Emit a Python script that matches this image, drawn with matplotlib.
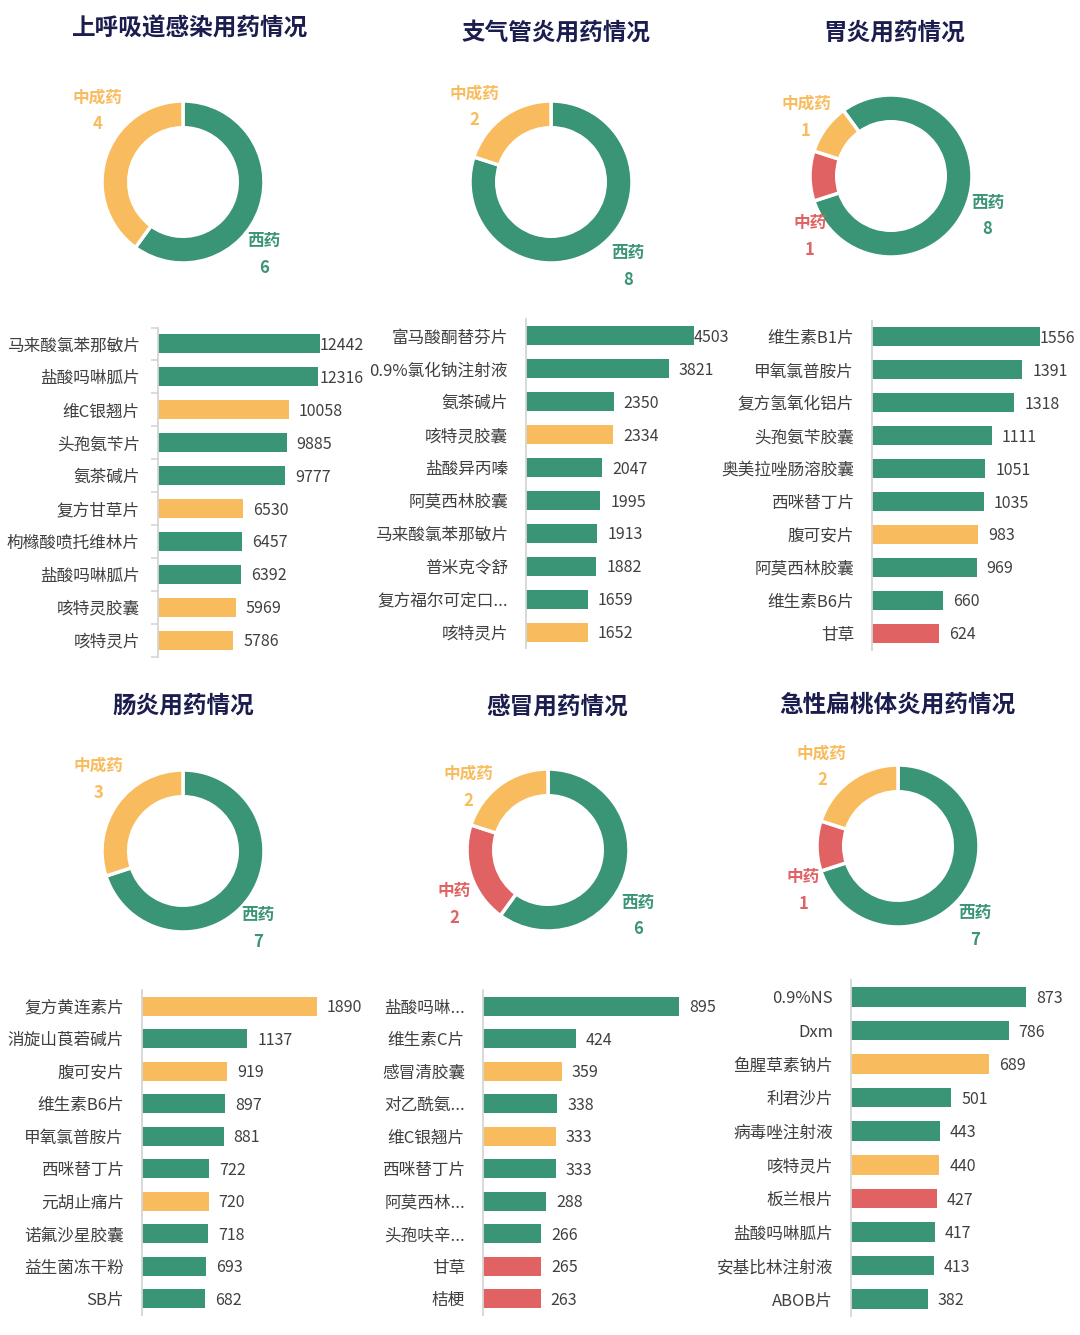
import numpy as np
import matplotlib
matplotlib.use("Agg")
import matplotlib.pyplot as plt

plt.rcParams["font.family"] = ["Noto Sans CJK SC", "DejaVu Sans"]

# colours
GREEN = "#3A9476"
RED = "#E06262"
YELLOW = "#F8BC5E"
NAVY = "#1B1D4F"
GREY_TXT = "#404040"
AXIS_GREY = "#D6D6D6"
kind_color = {"西": GREEN, "中": RED, "成": YELLOW}

# ---- data ----
titles = ["上呼吸道感染用药情况", "支气管炎用药情况", "胃炎用药情况",
          "肠炎用药情况", "感冒用药情况", "急性扁桃体炎用药情况"]

pie_labels = ["西药", "中药", "中成药"]
pie_kinds = ["西", "中", "成"]
pie_counts = [
    [6, 0, 4],
    [8, 0, 2],
    [8, 1, 1],
    [7, 0, 3],
    [6, 2, 2],
    [7, 1, 2],
]

names1 = ["马来酸氯苯那敏片", "盐酸吗啉胍片", "维C银翘片", "头孢氨苄片", "氨茶碱片",
          "复方甘草片", "枸橼酸喷托维林片", "盐酸吗啉胍片", "咳特灵胶囊", "咳特灵片"]
vals1 = [12442, 12316, 10058, 9885, 9777, 6530, 6457, 6392, 5969, 5786]
kinds1 = ["西", "西", "成", "西", "西", "成", "西", "西", "成", "成"]

names2 = ["富马酸酮替芬片", "0.9%氯化钠注射液", "氨茶碱片", "咳特灵胶囊", "盐酸异丙嗪",
          "阿莫西林胶囊", "马来酸氯苯那敏片", "普米克令舒", "复方福尔可定口...", "咳特灵片"]
vals2 = [4503, 3821, 2350, 2334, 2047, 1995, 1913, 1882, 1659, 1652]
kinds2 = ["西", "西", "西", "成", "西", "西", "西", "西", "西", "成"]

names3 = ["维生素B1片", "甲氧氯普胺片", "复方氢氧化铝片", "头孢氨苄胶囊", "奥美拉唑肠溶胶囊",
          "西咪替丁片", "腹可安片", "阿莫西林胶囊", "维生素B6片", "甘草"]
vals3 = [1556, 1391, 1318, 1111, 1051, 1035, 983, 969, 660, 624]
kinds3 = ["西", "西", "西", "西", "西", "西", "成", "西", "西", "中"]

names4 = ["复方黄连素片", "消旋山莨菪碱片", "腹可安片", "维生素B6片", "甲氧氯普胺片",
          "西咪替丁片", "元胡止痛片", "诺氟沙星胶囊", "益生菌冻干粉", "SB片"]
vals4 = [1890, 1137, 919, 897, 881, 722, 720, 718, 693, 682]
kinds4 = ["成", "西", "成", "西", "西", "西", "成", "西", "西", "西"]

names5 = ["盐酸吗啉...", "维生素C片", "感冒清胶囊", "对乙酰氨...", "维C银翘片",
          "西咪替丁片", "阿莫西林...", "头孢呋辛...", "甘草", "桔梗"]
vals5 = [895, 424, 359, 338, 333, 333, 288, 266, 265, 263]
kinds5 = ["西", "西", "成", "西", "成", "西", "西", "西", "中", "中"]

names6 = ["0.9%NS", "Dxm", "鱼腥草素钠片", "利君沙片", "病毒唑注射液",
          "咳特灵片", "板兰根片", "盐酸吗啉胍片", "安基比林注射液", "ABOB片"]
vals6 = [873, 786, 689, 501, 443, 440, 427, 417, 413, 382]
kinds6 = ["西", "西", "成", "西", "西", "成", "中", "西", "西", "西"]

bar_names = [names1, names2, names3, names4, names5, names6]
bar_vals = [vals1, vals2, vals3, vals4, vals5, vals6]
bar_kinds = [kinds1, kinds2, kinds3, kinds4, kinds5, kinds6]

# ---- layout (pixels) ----
W, H = 1080, 1335
title_pos = [(190, 28), (556, 33), (894, 33), (183, 706), (557, 707), (897, 705)]
donut_centers = [(183, 182), (551, 182), (891, 176), (183, 851), (548, 850), (898, 846)]
donut_r = 81
start_angles = [90, 90, 126, 90, 90, 90]
# label offsets in radius units, order 西药 / 中药 / 中成药
label_offsets = [
    [(1.00, -0.73), None, (-1.06, 1.04)],
    [(0.95, -0.88), None, (-0.95, 1.09)],
    [(1.19, -0.33), (-1.00, -0.58), (-1.05, 0.89)],
    [(0.93, -0.79), None, (-1.04, 1.05)],
    [(1.11, -0.65), (-1.16, -0.51), (-0.98, 0.94)],
    [(0.95, -0.83), (-1.17, -0.38), (-0.94, 1.14)],
]
# axis x, top y, bottom y, pixel width of the longest bar, clamp labels
bar_boxes = [
    (158, 327.5, 656.5, 162, True),
    (526, 319.5, 648.5, 168, True),
    (872, 320.5, 649.5, 168, True),
    (142, 990, 1315, 175, False),
    (483, 990, 1315, 196, False),
    (851, 980, 1316, 175, False),
]

fig = plt.figure(figsize=(W / 100, H / 100), dpi=100)
fig.patch.set_facecolor("white")


def px_axes(x0, y0, x1, y1):
    return fig.add_axes([x0 / W, 1 - y1 / H, (x1 - x0) / W, (y1 - y0) / H])


for i in range(6):
    # title
    tx, ty = title_pos[i]
    fig.text(tx / W, 1 - ty / H, titles[i], ha="center", va="center",
             fontsize=17, fontweight="bold", color=NAVY)

    # donut
    cx, cy = donut_centers[i]
    half = 130
    ax = px_axes(cx - half, cy - half, cx + half, cy + half)
    lim = half / donut_r
    counts = pie_counts[i]
    keep = [k for k in range(3) if counts[k] > 0]
    ax.pie([counts[k] for k in keep],
           colors=[kind_color[pie_kinds[k]] for k in keep],
           startangle=start_angles[i], counterclock=False, radius=1,
           wedgeprops=dict(width=0.33, edgecolor="white", linewidth=2.5))
    ax.set_xlim(-lim, lim)
    ax.set_ylim(-lim, lim)
    ax.set_aspect("equal")
    ax.axis("off")
    for k in keep:
        ox, oy = label_offsets[i][k]
        col = kind_color[pie_kinds[k]]
        ax.text(ox, oy, pie_labels[k], ha="center", va="center",
                fontsize=12, fontweight="bold", color=col)
        ax.text(ox, oy - 0.33, str(counts[k]), ha="center", va="center",
                fontsize=12, fontweight="bold", color=col)

    # bars
    x0, ytop, ybot, wpx, clamp = bar_boxes[i]
    vals = bar_vals[i]
    vmax = max(vals)
    bx = px_axes(x0, ytop, x0 + wpx, ybot)
    n = len(vals)
    y = np.arange(n)
    bx.barh(y, vals, height=0.58, color=[kind_color[k] for k in bar_kinds[i]])
    bx.set_xlim(0, vmax)
    bx.set_ylim(n - 0.5, -0.5)
    bx.set_yticks(y)
    bx.set_yticklabels(bar_names[i], fontsize=12, color=GREY_TXT)
    bx.tick_params(axis="y", length=0, pad=13)
    bx.set_xticks([])
    for s in ["top", "right", "bottom"]:
        bx.spines[s].set_visible(False)
    bx.spines["left"].set_color(AXIS_GREY)
    bx.spines["left"].set_linewidth(1.3)
    if i == 0:
        bx.set_yticks(np.arange(n + 1) - 0.5, minor=True)
        bx.tick_params(axis="y", which="minor", length=5, color=AXIS_GREY, width=1.2)
    pad = 10 * vmax / wpx
    for yy, v in zip(y, vals):
        xl = v + pad
        if clamp:
            xl = min(xl, vmax)
        bx.text(xl, yy + 0.05, str(v), ha="left", va="center", fontsize=11.5,
                color=GREY_TXT, clip_on=False)

fig.savefig("out.png", dpi=100, facecolor="white")
